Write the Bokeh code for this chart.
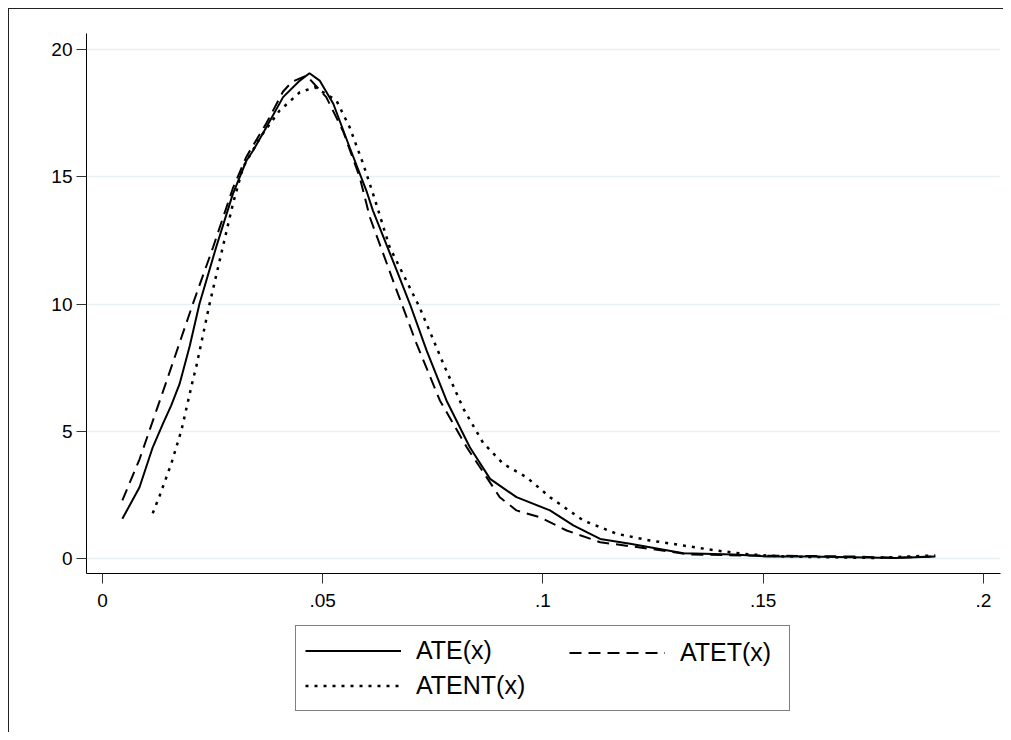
from bokeh.plotting import figure
from bokeh.layouts import column
from bokeh.models import Range1d, FixedTicker, Legend, LegendItem
from bokeh.embed import file_html
from bokeh.resources import INLINE

# ---- data ----
ate_x = [0.0045, 0.0084, 0.0114, 0.0137, 0.0156, 0.0175, 0.0198, 0.0220, 0.0258, 0.0296,
         0.0327, 0.0342, 0.0372, 0.0410, 0.0448, 0.0470, 0.0493, 0.0524, 0.0561, 0.0599,
         0.0614, 0.0668, 0.0698, 0.0736, 0.0781, 0.0834, 0.0880, 0.0940, 0.1016, 0.1069,
         0.1130, 0.1198, 0.1319, 0.1433, 0.1508, 0.1600, 0.1700, 0.1800, 0.1891]
ate_y = [1.56, 2.80, 4.37, 5.29, 6.02, 6.86, 8.35, 10.00, 12.23, 14.33,
         15.64, 16.03, 16.95, 18.13, 18.78, 19.07, 18.78, 17.87, 16.16, 14.46,
         13.67, 11.32, 10.00, 8.17, 6.21, 4.37, 3.13, 2.41, 1.89, 1.30,
         0.77, 0.58, 0.21, 0.16, 0.08, 0.08, 0.05, 0.02, 0.08]

atet_x = [0.0045, 0.0084, 0.0103, 0.0145, 0.0205, 0.0251, 0.0296, 0.0327, 0.0372, 0.0410,
          0.0430, 0.0463, 0.0508, 0.0546, 0.0584, 0.0607, 0.0668, 0.0713, 0.0766, 0.0827,
          0.0902, 0.0940, 0.0993, 0.1054, 0.1130, 0.1243, 0.1334, 0.1450, 0.1600, 0.1700,
          0.1800, 0.1891]
atet_y = [2.28, 3.90, 4.85, 6.95, 10.00, 12.23, 14.55, 15.80, 17.10, 18.35,
          18.73, 18.98, 18.13, 16.80, 14.98, 13.41, 10.53, 8.44, 6.21, 4.37,
          2.41, 1.89, 1.62, 1.10, 0.64, 0.38, 0.16, 0.12, 0.10, 0.08,
          0.03, 0.08]

atent_x = [0.0114, 0.0130, 0.0156, 0.0179, 0.0205, 0.0213, 0.0243, 0.0266, 0.0296, 0.0319,
           0.0360, 0.0402, 0.0448, 0.0482, 0.0531, 0.0561, 0.0592, 0.0618, 0.0652, 0.0720,
           0.0774, 0.0819, 0.0864, 0.0910, 0.0963, 0.1016, 0.1092, 0.1168, 0.1243, 0.1319,
           0.1395, 0.1470, 0.1550, 0.1650, 0.1750, 0.1891]
atent_y = [1.78, 2.48, 3.72, 5.03, 7.00, 7.55, 10.00, 11.71, 13.93, 15.37,
           16.60, 17.60, 18.32, 18.52, 18.00, 16.95, 15.50, 14.13, 12.23, 9.87,
           7.65, 5.90, 4.55, 3.72, 3.19, 2.41, 1.49, 0.97, 0.71, 0.51,
           0.31, 0.16, 0.08, 0.05, 0.02, 0.12]

x_ticks = [0, 0.05, 0.1, 0.15, 0.2]
x_tick_labels = ["0", ".05", ".1", ".15", ".2"]
y_ticks = [0, 5, 10, 15, 20]
y_tick_labels = ["0", "5", "10", "15", "20"]
series_names = ["ATE(x)", "ATET(x)", "ATENT(x)"]

FONT = "Liberation Sans"
X_RANGE = (-0.00364, 0.2039)
Y_RANGE = (-0.589, 20.63)
styles = [dict(line_color="black", line_width=2),
          dict(line_color="black", line_width=2, line_dash="12 7"),
          dict(line_color="black", line_width=2.5, line_dash="3 6")]
series = [(ate_x, ate_y), (atet_x, atet_y), (atent_x, atent_y)]

# ---------------- main chart ----------------
p = figure(width=994, height=609, output_backend="svg", toolbar_location=None,
           x_range=Range1d(*X_RANGE), y_range=Range1d(*Y_RANGE),
           min_border_left=77, min_border_top=24, min_border_right=3, min_border_bottom=45)
p.outline_line_color = None
p.background_fill_color = "white"
p.border_fill_color = "white"

p.xgrid.visible = False
p.ygrid.ticker = FixedTicker(ticks=y_ticks)
p.ygrid.grid_line_color = "#e6eff1"
p.ygrid.grid_line_width = 1.5

for ax, ticks, labels in ((p.xaxis[0], x_ticks, x_tick_labels), (p.yaxis[0], y_ticks, y_tick_labels)):
    ax.ticker = FixedTicker(ticks=ticks)
    ax.major_label_overrides = {t: l for t, l in zip(ticks, labels)}
    ax.axis_line_color = "black"
    ax.axis_line_width = 1
    ax.major_tick_out = 10
    ax.major_tick_in = 0
    ax.major_tick_line_color = "#333333"
    ax.minor_tick_line_color = None
    ax.major_label_text_font = FONT
    ax.major_label_text_font_size = "19px"
    ax.major_label_text_color = "black"
p.xaxis.major_label_standoff = 10
p.yaxis.major_label_standoff = 4

for (xs, ys), st in zip(series, styles):
    p.line(xs, ys, **st)

# ---------------- legend strip ----------------
q = figure(width=994, height=114, output_backend="svg", toolbar_location=None,
           x_range=Range1d(*X_RANGE), y_range=Range1d(*Y_RANGE),
           x_axis_location=None, y_axis_location=None,
           min_border_left=0, min_border_right=0, min_border_top=0, min_border_bottom=0)
q.outline_line_color = None
q.xgrid.visible = False
q.ygrid.visible = False
q.background_fill_color = "white"
q.border_fill_color = "white"

legend_renderers = []
for (xs, ys), st in zip(series, styles):
    legend_renderers.append(q.line(xs, ys, visible=False, **st))

common = dict(glyph_width=96, glyph_height=31, label_height=31, label_standoff=15,
              label_text_font=FONT, label_text_font_size="25px", label_text_color="black",
              padding=9, spacing=4, margin=0)

leg1 = Legend(items=[LegendItem(label=series_names[0], renderers=[legend_renderers[0]]),
                     LegendItem(label=series_names[2], renderers=[legend_renderers[2]])],
              location=(209, 21), orientation="vertical", label_width=364,
              border_line_color="black", border_line_width=1,
              background_fill_color="white", background_fill_alpha=1.0, **common)
q.add_layout(leg1, "center")

# borderless legend: Bokeh drops the padding, so it is placed at the glyph itself
leg2 = Legend(items=[LegendItem(label=series_names[1], renderers=[legend_renderers[1]])],
              location=(483, 64), orientation="vertical",
              border_line_color=None, background_fill_alpha=0.0, **common)
q.add_layout(leg2, "center")

layout = column(p, q, spacing=0)
layout.styles = {"border-left": "1px solid #222222", "border-top": "1px solid #222222",
                 "margin-left": "8px", "margin-top": "8px"}

open("out.html", "w").write(file_html(layout, INLINE))
